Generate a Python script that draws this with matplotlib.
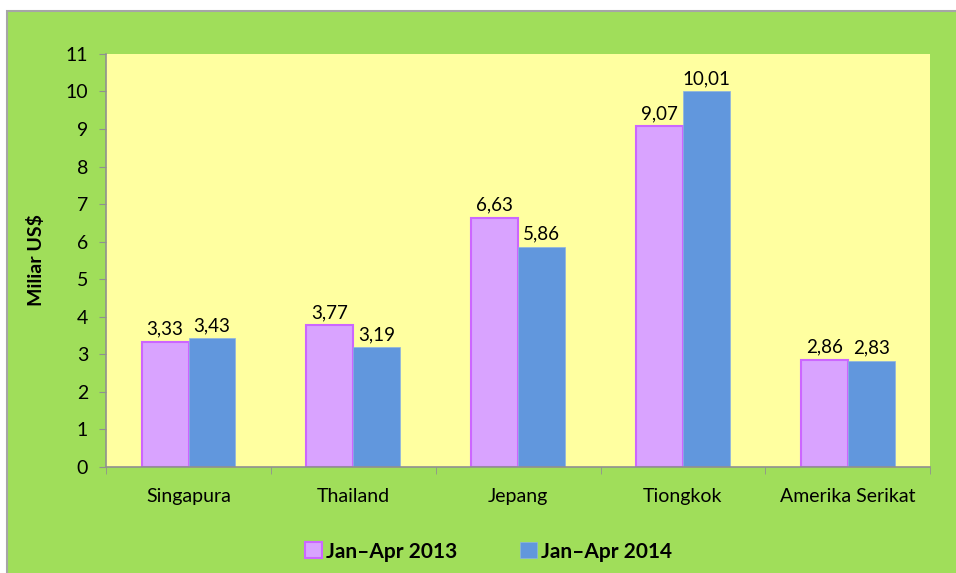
import matplotlib.pyplot as plt
from matplotlib.patches import Rectangle
import numpy as np

plt.rcParams['font.family'] = ['Lato', 'DejaVu Sans']

negara = ['Singapura', 'Thailand', 'Jepang', 'Tiongkok', 'Amerika Serikat']
nilai_2013 = [3.33, 3.77, 6.63, 9.07, 2.86]
nilai_2014 = [3.43, 3.19, 5.86, 10.01, 2.83]
label_2013 = 'Jan\u2013Apr 2013'
label_2014 = 'Jan\u2013Apr 2014'

hijau = '#A0DE5A'
kuning = '#FFFFA0'

fig = plt.figure(figsize=(9.56, 5.73), dpi=100)
fig.patch.set_facecolor('white')
# latar hijau dengan bingkai abu-abu
fig.patches.append(Rectangle((7 / 956, -0.01), 1.02, 1 - 11 / 573 + 0.01,
                             transform=fig.transFigure, facecolor=hijau,
                             edgecolor='#A6A6A6', linewidth=1.5, zorder=-5))

ax = fig.add_axes([0.111, 0.185, 0.862, 0.721])
ax.set_facecolor(kuning)

x = np.arange(len(negara))
w = 0.285
b1 = ax.bar(x - w / 2, nilai_2013, w, color='#D9A3FF', edgecolor='#CC66FF',
            linewidth=1.5, label=label_2013)
b2 = ax.bar(x + w / 2, nilai_2014, w, color='#6197DD', edgecolor='#8DB3E2',
            linewidth=0.5, label=label_2014)

for bars in (b1, b2):
    ax.bar_label(bars, labels=[f'{v:.2f}'.replace('.', ',') for v in bars.datavalues],
                 padding=3, fontsize=13.5)

ax.set_xlim(-0.5, len(negara) - 0.5)
ax.set_ylim(0, 11)
ax.set_yticks(range(0, 12))
ax.set_xticks(x)
ax.set_xticklabels(negara)
ax.set_xticks(np.arange(-0.5, len(negara)), minor=True)
ax.tick_params(axis='x', which='major', length=0, pad=15, labelsize=14)
ax.tick_params(axis='x', which='minor', length=5, color='#909090')
ax.tick_params(axis='y', length=5, color='#909090', labelsize=14, pad=8)

for s in ('top', 'right'):
    ax.spines[s].set_visible(False)
for s in ('left', 'bottom'):
    ax.spines[s].set_color('#909090')
    ax.spines[s].set_linewidth(1.2)

ax.set_ylabel('Miliar US$', fontsize=14, fontweight='bold', labelpad=15)

leg = ax.legend(loc='upper center', bbox_to_anchor=(0.464, -0.135), ncol=2,
                frameon=False, prop={'weight': 'bold', 'size': 15},
                handlelength=0.8, handleheight=0.8, handletextpad=0.2,
                columnspacing=3.0)

fig.savefig('out.png', dpi=100)
